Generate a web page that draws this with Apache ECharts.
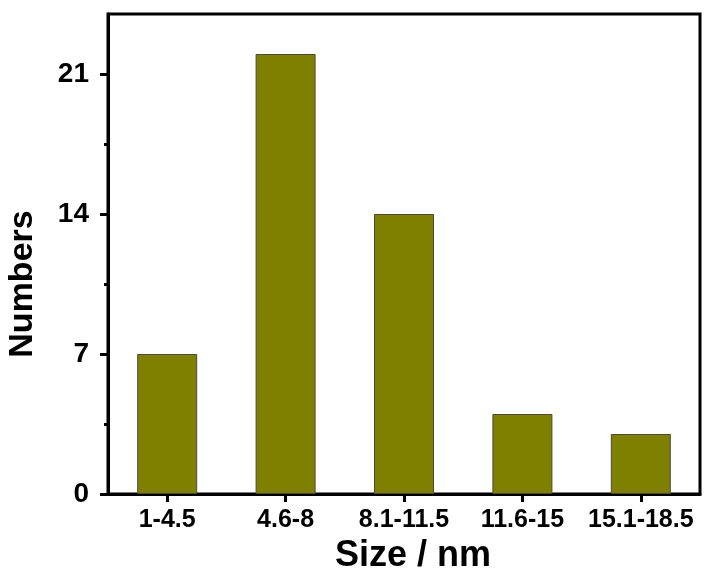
<!DOCTYPE html>
<html>
<head>
<meta charset="utf-8">
<script src="https://cdn.jsdelivr.net/npm/echarts@6/dist/echarts.min.js"></script>
<style>
  html, body { margin: 0; padding: 0; background: #ffffff; }
  #chart { width: 704px; height: 575px; }
</style>
</head>
<body>
<div id="chart"></div>
<script>
// Particle size distribution
const sizeRanges = ['1-4.5', '4.6-8', '8.1-11.5', '11.6-15', '15.1-18.5'];
const counts = [7, 22, 14, 4, 3];
const yMajorTicks = [0, 7, 14, 21];
const yMinorTicks = [3.5, 10.5, 17.5];

const FONT = '"Liberation Sans", Arial, Helvetica, sans-serif';
const chart = echarts.init(document.getElementById('chart'), null, { renderer: 'canvas' });

chart.setOption({
  animation: false,
  backgroundColor: '#ffffff',
  grid: {
    left: 108, right: 4, top: 14, bottom: 81,
    outerBoundsMode: 'none',
    containLabel: false,
    show: true, borderColor: '#000000', borderWidth: 3, backgroundColor: 'transparent'
  },
  xAxis: {
    type: 'category',
    data: sizeRanges,
    name: 'Size / nm',
    nameLocation: 'middle',
    nameGap: 42,
    nameTextStyle: { fontFamily: FONT, fontWeight: 'bold', fontSize: 36, color: '#000', padding: [0, 0, 0, 18] },
    axisLine: { show: true, lineStyle: { color: '#000', width: 3 } },
    axisTick: { show: true, alignWithLabel: true, interval: 0, length: 8, lineStyle: { color: '#000', width: 3 } },
    axisLabel: { interval: 0, hideOverlap: false, fontFamily: FONT, fontWeight: 'bold', fontSize: 25, color: '#000', margin: 14 },
    splitLine: { show: false }
  },
  yAxis: [
    {
      type: 'value',
      min: 0, max: 24, interval: 7,
      name: 'Numbers',
      nameLocation: 'middle',
      nameGap: 68,
      nameRotate: 90,
      nameTextStyle: { fontFamily: FONT, fontWeight: 'bold', fontSize: 34, color: '#000', padding: [0, 60, 0, 0] },
      axisLine: { show: true, lineStyle: { color: '#000', width: 3 } },
      axisTick: { show: true, length: 8, customValues: yMajorTicks, lineStyle: { color: '#000', width: 3 } },
      axisLabel: { fontFamily: FONT, fontWeight: 'bold', fontSize: 28, color: '#000', margin: 19, customValues: yMajorTicks },
      splitLine: { show: false }
    },
    {
      type: 'value',
      position: 'left',
      min: 0, max: 24,
      axisLine: { show: false },
      axisTick: { show: true, length: 4, customValues: yMinorTicks, lineStyle: { color: '#000', width: 3 } },
      axisLabel: { show: false },
      splitLine: { show: false }
    }
  ],
  series: [
    {
      type: 'bar',
      data: counts,
      yAxisIndex: 0,
      barWidth: 60,
      itemStyle: { color: '#808000', borderColor: '#4a4a3a', borderWidth: 1 }
    }
  ]
});
</script>
</body>
</html>
